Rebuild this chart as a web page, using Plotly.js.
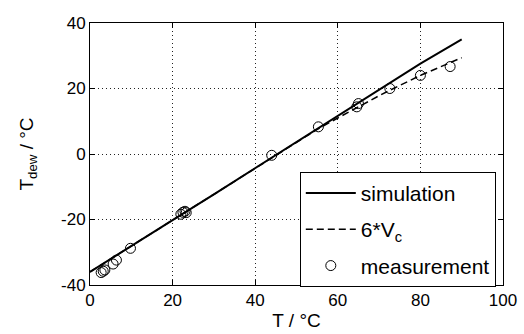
<!DOCTYPE html>
<html>
<head>
<meta charset="utf-8">
<script src="https://cdn.plot.ly/plotly-3.0.1.min.js"></script>
<style>html,body{margin:0;padding:0;background:#fff;}#chart{width:524px;height:334px;}</style>
</head>
<body>
<div id="chart"></div>
<script>
const simT = [0, 10, 20, 30, 40, 50, 60, 70, 80, 90];
const simDew = [-36, -28, -20.2, -12.3, -4.3, 3.8, 11.7, 19.6, 27.6, 35];
const vcT = [0, 10, 20, 30, 40, 50, 55, 60, 65, 70, 73, 80, 90];
const vcDew = [-36, -28, -20.2, -12.3, -4.3, 3.6, 7.5, 11, 14.5, 17.8, 19.7, 24, 29.4];
const measT = [2.7, 3.2, 3.6, 5.6, 6.4, 9.8, 22, 22.5, 23, 23.3, 44, 55.3, 64.6, 65, 72.6, 80, 87.2];
const measDew = [-36.2, -35.8, -35.4, -33.6, -32.4, -28.8, -18.4, -17.8, -17.5, -17.9, -0.4, 8.3, 14.4, 15.4, 20, 24, 26.7];
const xTicks = [0, 20, 40, 60, 80, 100];
const yTicks = [-40, -20, 0, 20, 40];

const fam = 'Liberation Sans, Arial, sans-serif';
const font = {family: fam, size: 17, color: '#000'};
const titleFont = {family: fam, size: 19, color: '#000'};
const legFont = {family: fam, size: 21, color: '#000'};
const data = [
  {x: simT, y: simDew, mode: 'lines', name: 'simulation', legendgroup: 'a',
   line: {color: '#000', width: 2}},
  {x: vcT, y: vcDew, mode: 'lines', name: '6*V<sub>c</sub>', legendgroup: 'b',
   line: {color: '#000', width: 1.5, dash: '7px,4px'}},
  {x: measT, y: measDew, mode: 'markers', name: 'measurement', legendgroup: 'c',
   marker: {symbol: 'circle-open', size: 10, color: '#000', line: {width: 1, color: '#000'}}}
];
const axisCommon = {
  showline: true, linecolor: '#000', linewidth: 1, mirror: 'ticks',
  ticks: 'inside', ticklen: 5, tickcolor: '#000',
  showgrid: true, gridcolor: '#222', griddash: '1px,3px', gridwidth: 1,
  zeroline: false, tickfont: font
};
const layout = {
  width: 524, height: 334,
  margin: {l: 90, r: 21, t: 23, b: 49},
  paper_bgcolor: '#fff', plot_bgcolor: '#fff',
  font: font,
  showlegend: true,
  xaxis: Object.assign({}, axisCommon, {range: [0, 100], tickvals: xTicks, ticktext: xTicks.map(String),
    title: {text: 'T / °C', font: titleFont, standoff: 4}}),
  yaxis: Object.assign({}, axisCommon, {range: [-40, 40], tickvals: yTicks, ticktext: yTicks.map(String),
    title: {text: 'T<sub>dew</sub> / °C', font: titleFont, standoff: 22}}),
  legend: {x: 0.508, y: 0.432, xanchor: 'left', yanchor: 'top', bgcolor: '#fff',
    bordercolor: '#000', borderwidth: 1, font: legFont, tracegroupgap: 6, traceorder: 'grouped',
    itemwidth: 50}
};
Plotly.newPlot('chart', data, layout, {staticPlot: true});
</script>
</body>
</html>
